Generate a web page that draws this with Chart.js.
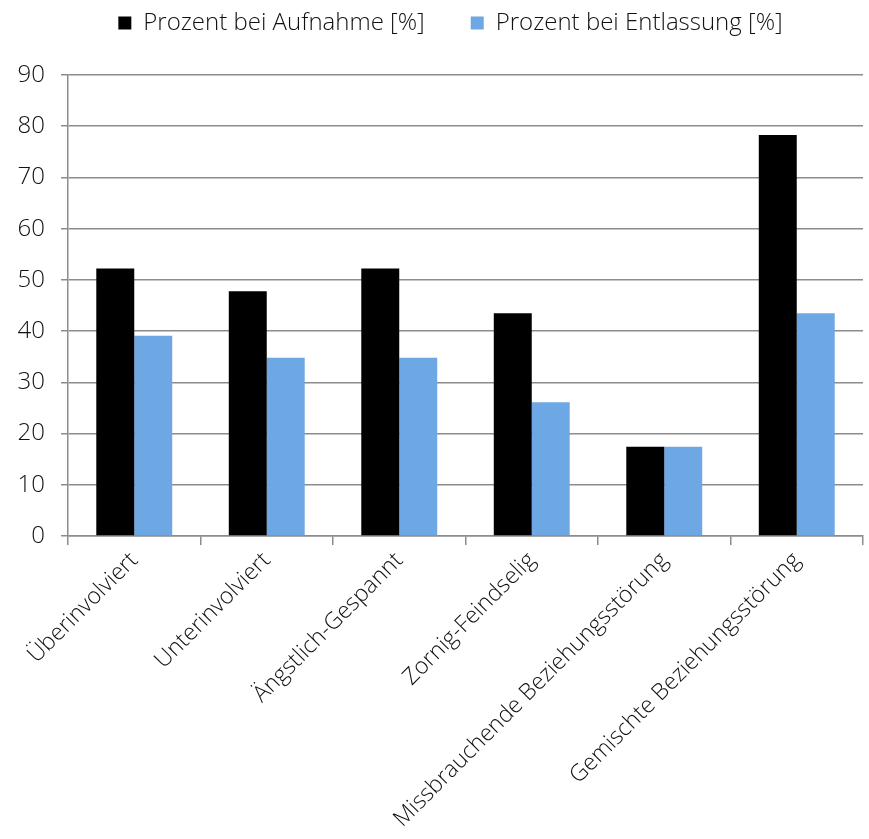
<!DOCTYPE html>
<html>
<head>
<meta charset="utf-8">
<script src="https://cdn.jsdelivr.net/npm/chart.js@4/dist/chart.umd.min.js"></script>
<style>
  html, body { margin: 0; padding: 0; background: #fff; }
  #wrap { width: 869px; height: 839px; }
</style>
</head>
<body>
<div id="wrap"><canvas id="chart" width="869" height="839"></canvas></div>
<script>
const categories = [
    'Überinvolviert',
    'Unterinvolviert',
    'Ängstlich-Gespannt',
    'Zornig-Feindselig',
    'Missbrauchende Beziehungsstörung',
    'Gemischte Beziehungsstörung',
];
const aufnahme = [52.2, 47.8, 52.2, 43.5, 17.4, 78.3];
const entlassung = [39.1, 34.8, 34.8, 26.1, 17.4, 43.5];
const yTicks = [0, 10, 20, 30, 40, 50, 60, 70, 80, 90];

const family = "'Open Sans', 'Noto Sans', sans-serif";
const gridColor = '#8c8c8c';

Chart.defaults.font.family = family;
Chart.defaults.font.weight = '300';
Chart.defaults.color = '#111';

// push the plot area down below the legend, and nudge the legend right
const legendGap = {
    id: 'legendGap',
    beforeInit(chart) {
        const fit = chart.legend.fit;
        chart.legend.fit = function () {
            fit.bind(chart.legend)();
            this.height = 110;
        };
    },
    afterLayout(chart) {
        chart.legend.left += 19;
        chart.legend.right += 19;
    },
};

new Chart(document.getElementById('chart'), {
    type: 'bar',
    data: {
        labels: categories,
        datasets: [
            {
                label: 'Prozent bei Aufnahme [%]',
                data: aufnahme,
                backgroundColor: '#000000',
                categoryPercentage: 0.573,
                barPercentage: 1,
            },
            {
                label: 'Prozent bei Entlassung [%]',
                data: entlassung,
                backgroundColor: '#6da8e4',
                categoryPercentage: 0.573,
                barPercentage: 1,
            },
        ],
    },
    plugins: [legendGap],
    options: {
        responsive: false,
        animation: false,
        layout: { padding: { top: -35, right: 6, left: 0, bottom: 0 } },
        plugins: {
            legend: {
                position: 'top',
                labels: {
                    font: { size: 24 },
                    boxWidth: 13,
                    boxHeight: 13,
                    padding: 46,
                    color: '#111',
                },
            },
            tooltip: { enabled: false },
        },
        scales: {
            x: {
                offset: true,
                grid: {
                    offset: true,
                    drawOnChartArea: false,
                    drawTicks: true,
                    tickLength: 9,
                    color: gridColor,
                    lineWidth: 1.5,
                },
                border: { color: gridColor, width: 1.5 },
                ticks: {
                    font: { size: 23 },
                    color: '#111',
                    minRotation: 45,
                    maxRotation: 45,
                    autoSkip: false,
                    padding: 2,
                },
                afterFit: (scale) => { scale.height = 303; },
            },
            y: {
                min: 0,
                max: 90,
                afterBuildTicks: (scale) => { scale.ticks = yTicks.map(v => ({ value: v })); },
                grid: {
                    color: gridColor,
                    lineWidth: 1.5,
                    tickLength: 7,
                },
                border: { color: gridColor, width: 1.5 },
                ticks: { font: { size: 24 }, color: '#111', padding: 16 },
                afterFit: (scale) => { scale.width = 68; },
            },
        },
    },
});
</script>
</body>
</html>
